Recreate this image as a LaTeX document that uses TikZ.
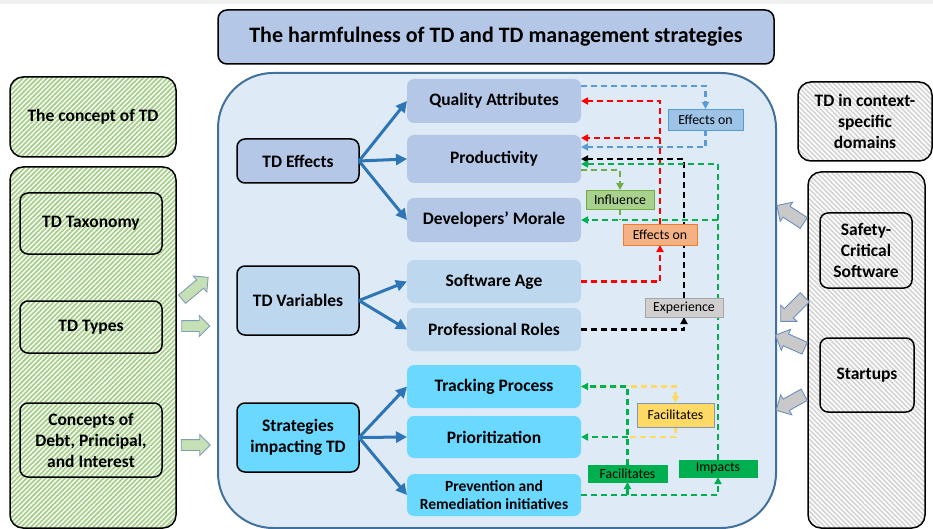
\documentclass[tikz,border=0pt]{standalone}
\usepackage{fontspec}
\setmainfont{Carlito}
\usetikzlibrary{arrows.meta,shapes.arrows,patterns.meta}
\definecolor{titleblue}{HTML}{B4C7E7}
\definecolor{mainfill}{HTML}{DEEBF7}
\definecolor{mainborder}{HTML}{41719C}
\definecolor{effcol}{HTML}{B4C7E7}
\definecolor{varcol}{HTML}{BDD7EE}
\definecolor{stratcol}{HTML}{6AD8FF}
\definecolor{arrowblue}{HTML}{2E75B6}
\definecolor{dblue}{HTML}{5B9BD5}
\definecolor{dred}{HTML}{FF0000}
\definecolor{dgreen}{HTML}{00B050}
\definecolor{dolive}{HTML}{70AD47}
\definecolor{dyellow}{HTML}{FFD966}
\definecolor{lblblue}{HTML}{9DC3E6}
\definecolor{lblorange}{HTML}{F4B183}
\definecolor{lblorangeb}{HTML}{ED7D31}
\definecolor{lblgreen}{HTML}{A9D18E}
\definecolor{lblgray}{HTML}{D0CECE}
\definecolor{lblgrayb}{HTML}{A6A6A6}
\definecolor{lblyellowb}{HTML}{8497B0}
\definecolor{hatchgreen}{HTML}{A6CF8A}
\definecolor{hatchgray}{HTML}{D3D3D3}
\definecolor{garrowf}{HTML}{C5E0B4}
\definecolor{garrowb}{HTML}{7F9DB9}
\definecolor{rarrowf}{HTML}{C9C9C9}
\definecolor{rarrowb}{HTML}{6C8EBF}
\definecolor{topband}{HTML}{F0F0F0}
\pgfdeclarelayer{fg}
\pgfsetlayers{main,fg}
\begin{document}
\begin{tikzpicture}[x=1pt,y=-1pt,
  every node/.style={inner sep=0pt, outer sep=0pt},
  bx/.style={draw=black, line width=1.5pt, rounded corners=8pt, align=center,
    font=\bfseries\fontsize{17.5}{21}\selectfont},
  hatchg/.style={bx, rounded corners=13pt, preaction={fill=white},
    pattern={Lines[angle=45,distance=3.4pt,line width=1.8pt]}, pattern color=hatchgreen},
  hatchr/.style={bx, rounded corners=13pt, preaction={fill=white},
    pattern={Lines[angle=-45,distance=3.4pt,line width=1.6pt]}, pattern color=hatchgray},
  sub/.style={rounded corners=7pt, align=center, minimum width=174pt,
    font=\bfseries\fontsize{17.5}{21}\selectfont},
  lbl/.style={draw, line width=0.9pt, font=\fontsize{13.8}{16}\selectfont},
  dl/.style={line width=2.4pt, dash pattern=on 6pt off 4pt, -{Triangle[length=7pt,width=7pt]}},
  dn/.style={line width=2.4pt, dash pattern=on 6pt off 4pt},
  ba/.style={draw=arrowblue, line width=3pt, -{Triangle[length=11pt,width=11pt]}},
  garr/.style={single arrow, draw=garrowb, fill=garrowf, line width=0.9pt,
    inner xsep=0pt, inner ysep=5pt, single arrow head extend=5pt},
  rarr/.style={single arrow, draw=rarrowb, fill=rarrowf, line width=0.9pt,
    inner xsep=0pt, inner ysep=6pt, single arrow head extend=5pt}
]
\useasboundingbox (0,0) rectangle (933,529);
\fill[topband] (0,0) rectangle (933,4);

% title
\node[bx, fill=titleblue, rounded corners=9pt, minimum width=556pt, minimum height=54pt,
  font=\bfseries\fontsize{22}{26}\selectfont] (title) at (496,37)
  {The harmfulness of TD and TD management strategies};

% left column
\node[hatchg, minimum width=166pt, minimum height=80pt] (concept) at (93,117) {The concept of TD};
\node[hatchg, minimum width=166pt, minimum height=361pt] (leftouter) at (93,347.5) {};
\node[bx, minimum width=142pt, minimum height=61pt] (tax) at (91,223.5) {TD Taxonomy};
\node[bx, minimum width=142pt, minimum height=52pt] (types) at (91,327) {TD Types};
\node[bx, minimum width=142pt, minimum height=74pt] (concepts) at (91,440) {Concepts of\\Debt, Principal,\\and Interest};

% right column
\node[hatchr, minimum width=134pt, minimum height=79pt] (context) at (865,121.5) {TD in context-\\specific\\domains};
\node[hatchr, minimum width=117pt, minimum height=356pt] (rightouter) at (866.5,350) {};
\node[bx, minimum width=92pt, minimum height=75pt] (safety) at (866,250.5) {Safety-\\Critical\\Software};
\node[bx, minimum width=94pt, minimum height=74pt] (startups) at (867,375) {Startups};

% main container
\node[draw=mainborder, fill=mainfill, line width=2pt, rounded corners=55pt,
  minimum width=558pt, minimum height=455pt] (main) at (497,300.5) {};

% group boxes
\node[bx, fill=effcol, minimum width=122pt, minimum height=44pt] (eff) at (298,161) {TD Effects};
\node[bx, fill=varcol, minimum width=122pt, minimum height=69pt] (vars) at (298,300.5) {TD Variables};
\node[bx, fill=stratcol, minimum width=122pt, minimum height=69pt] (strat) at (298,437.5) {Strategies\\impacting TD};

\node[sub, fill=effcol, minimum height=44pt] (qa) at (494,101) {Quality Attributes};
\node[sub, fill=effcol, minimum height=48pt] (prod) at (494,159) {Productivity};
\node[sub, fill=effcol, minimum height=44pt] (dm) at (494,220) {Developers’ Morale};
\node[sub, fill=varcol, minimum height=43pt] (sa) at (494,281.5) {Software Age};
\node[sub, fill=varcol, minimum height=43pt] (pr) at (494,329.5) {Professional Roles};
\node[sub, fill=stratcol, minimum height=43pt] (tp) at (494,386.5) {Tracking Process};
\node[sub, fill=stratcol, minimum height=42pt] (prio) at (494,437) {Prioritization};
\node[sub, fill=stratcol, minimum height=42pt, font=\bfseries\fontsize{15.5}{18}\selectfont] (pri) at (494,495)
  {Prevention and\\Remediation initiatives};

% blue arrows
\draw[ba] (eff.east) -- (qa.west);
\draw[ba] (eff.east) -- (prod.west);
\draw[ba] (eff.east) -- (dm.west);
\draw[ba] (vars.east) -- (sa.west);
\draw[ba] (vars.east) -- (pr.west);
\draw[ba] (strat.east) -- (tp.west);
\draw[ba] (strat.east) -- (prio.west);
\draw[ba] (strat.east) -- (pri.west);

% labels (on top layer)
\begin{pgfonlayer}{fg}
\node[lbl, draw=dblue, fill=lblblue, minimum width=75pt, minimum height=21pt] (effblue) at (705.5,119.5) {Effects on};
\node[lbl, draw=dolive, fill=lblgreen, minimum width=68pt, minimum height=19pt] (infl) at (620,199.5) {Influence};
\node[lbl, draw=lblorangeb, fill=lblorange, minimum width=74pt, minimum height=21pt] (efforange) at (660,234.5) {Effects on};
\node[lbl, draw=lblgrayb, fill=lblgray, minimum width=78pt, minimum height=19pt] (exper) at (684,307.5) {Experience};
\node[lbl, draw=lblyellowb, fill=dyellow, minimum width=77pt, minimum height=24pt] (facy) at (675.5,415) {Facilitates};
\node[lbl, draw=dgreen, fill=dgreen, minimum width=79pt, minimum height=17pt] (facg) at (627.5,473.5) {Facilitates};
\node[lbl, draw=dgreen, fill=dgreen, minimum width=78pt, minimum height=17pt] (imp) at (718,468.5) {Impacts};
\end{pgfonlayer}

% helper coordinates
\coordinate (qaTop) at ([yshift=15pt]qa.east);
\coordinate (prodB) at ([yshift=12pt]prod.east);
\coordinate (prodR) at ([yshift=21pt]prod.east);
\coordinate (prodG) at ([yshift=-5pt]prod.east);
\coordinate (prodI) at ([yshift=-11pt]prod.east);

% blue: quality attributes -> productivity
\draw[dl, dblue] (qaTop) -| (effblue.north);
\draw[dl, dblue] (effblue.south) |- (prodB);

% red: software age -> QA, productivity
\draw[dl, dred] (sa.east) -| (efforange.south);
\draw[dl, dred] (efforange.north) |- (qa.east);
\draw[dl, dred] (efforange.north |- prodR) -- (prodR);

% black: professional roles -> productivity
\draw[dl, black] (pr.east) -| (exper.south);
\draw[dl, black] (exper.north) |- (prod.east);

% yellow: tracking -> prioritization
\draw[dl, dyellow] (tp.east) -| (facy.north);
\draw[dn, dyellow] (facy.south) |- (facg.north |- prio.east);

% olive: productivity influence morale
\draw[dl, dolive] (prodI) -| (infl.north);
\draw[dn, dolive] (infl.south) -- (infl.south |- dm.east);

% green: prevention impacts / facilitates
\draw[dl, dgreen] (pri.east) -| (imp.south);
\draw[dl, dgreen] (facg.south |- pri.east) -- (facg.south);
\draw[dl, dgreen] (imp.north) |- (prodG);
\draw[dl, dgreen] (imp.north |- dm.east) -- (dm.east);
\draw[dl, dgreen] (facg.north) |- (tp.east);
\draw[dl, dgreen] (facg.north |- prio.east) -- (prio.east);

% block arrows
\node[garr, minimum height=34pt, rotate=40] (ga1) at (193,290) {};
\node[garr, minimum height=28pt] (ga2) at (193,326) {};
\node[garr, minimum height=29pt] (ga3) at (193,445) {};
\node[rarr, minimum height=32pt, rotate=147] (gr1) at (793,216) {};
\node[rarr, minimum height=34pt, rotate=225] (gr2) at (795,307) {};
\node[rarr, minimum height=32pt, rotate=156] (gr3) at (793,343) {};
\node[rarr, minimum height=32pt, rotate=209] (gr4) at (793,401) {};
\end{tikzpicture}
\end{document}
